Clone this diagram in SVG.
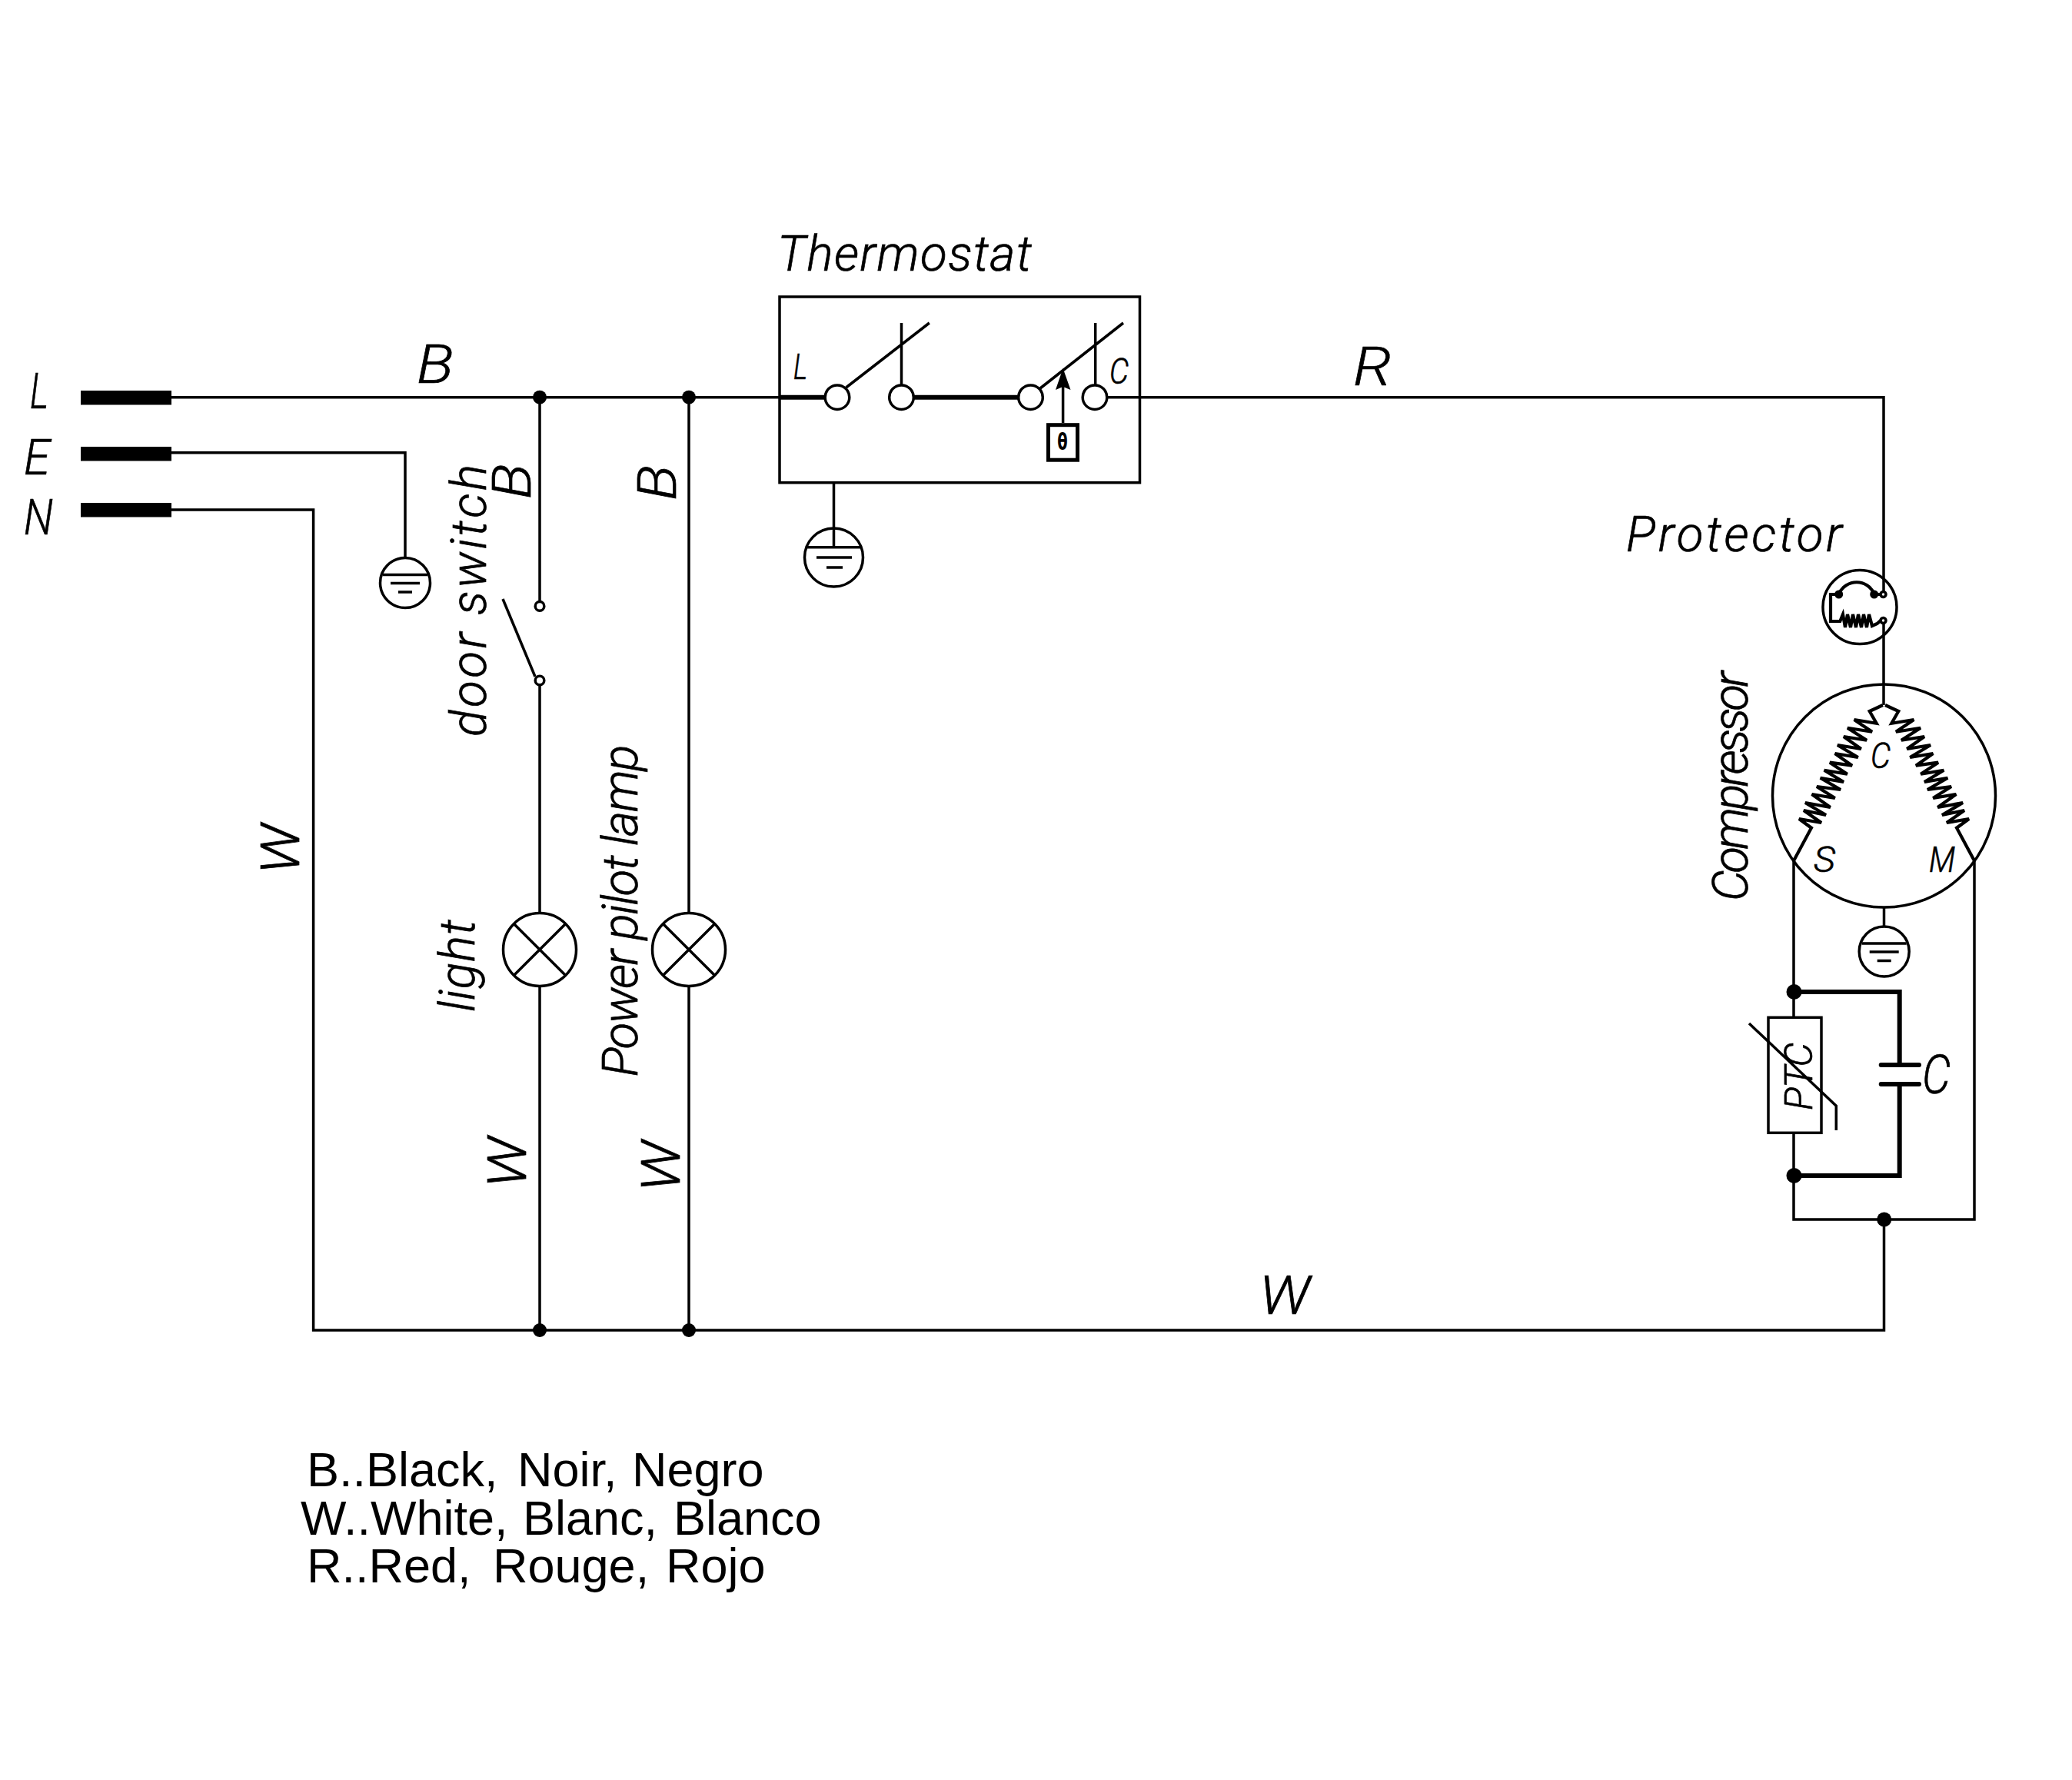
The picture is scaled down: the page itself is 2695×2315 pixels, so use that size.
<svg xmlns="http://www.w3.org/2000/svg" xmlns:xlink="http://www.w3.org/1999/xlink" width="2695" height="2315" viewBox="0 0 2695 2315">
<style>
.w{fill:none;stroke:#000;stroke-width:3.5;stroke-linejoin:miter;stroke-linecap:butt}
.c{fill:none;stroke:#000;stroke-width:4.2;stroke-linejoin:miter}
.t{fill:none;stroke:#000;stroke-width:6}
.n{fill:#fff;stroke:#000;stroke-width:3.5}
.o{fill:none;stroke:#000;stroke-width:3.5}
.d{fill:#000}
.bar{fill:#000}
text{fill:#000}
.i{font-family:"Roboto","Liberation Sans",sans-serif;font-style:italic;font-weight:300;font-size:64px;stroke:#000;stroke-width:.7}
.s{font-size:46px}
.m{font-size:70px}
.lg{font-family:"Liberation Sans",Arial,sans-serif;font-size:63px}
</style>
<defs>
<g id="gnd"><circle class="o" r="32.5"/><path class="w" d="M-29,-10.5H29M-19,0.5H19M-9,12H9"/></g>
<g id="lamp-sym"><circle class="n" r="47.5"/><path class="w" d="M-33.6,-33.6L33.6,33.6M33.6,-33.6L-33.6,33.6"/></g>
<path id="coil" class="c" d="M2449,917L2431.7,925L2440.7,940.7L2411.7,936L2435,951.7L2403,946.7L2428,962.7L2398,958L2420.7,974L2390,969L2416.7,985L2386.7,980L2409,995.7L2380,991.7L2402.7,1006.7L2372.7,1001.7L2398,1017L2367.7,1011.7L2394,1027L2363,1023L2386.7,1038L2356.7,1033L2380.7,1050L2348,1044L2375,1060L2346,1054L2369,1070L2340,1065L2356,1076.7L2333,1119.6"/>
</defs>
<rect width="2695" height="2315" fill="#fff"/>
<g id="connectors">
<path class="w" d="M223,516.7H1014M1014,516.7H1074"/>
<path class="w" d="M1440,516.7H2450V773"/>
<path class="w" d="M223,588.7H527V726"/>
<path class="w" d="M223,663H407.6V1730H2450.5V1586"/>
<path class="w" d="M702,516.7V782.5M702,891V1187.5M702,1282.5V1730"/>
<path class="w" d="M896,516.7V1187.5M896,1282.5V1730"/>
<path class="w" d="M1084.5,627.7V692"/>
<path class="w" d="M2450,807V917"/>
<path class="w" d="M2450.5,1180V1205"/>
<path class="w" d="M2333,1119.6V1323M2333,1473V1586H2568V1119"/>
<path class="t" d="M2333.5,1290H2470.7V1385M2470.7,1410V1529H2333.5"/>
</g>
<g id="junctions">
<circle class="d" cx="702" cy="516.7" r="9"/><circle class="d" cx="896" cy="516.7" r="9"/>
<circle class="d" cx="702" cy="1730" r="9"/><circle class="d" cx="896" cy="1730" r="9"/>
<circle class="d" cx="2333.5" cy="1290" r="10"/><circle class="d" cx="2333.5" cy="1529" r="10"/>
<circle class="d" cx="2450.7" cy="1586" r="9.5"/>
</g>
<g id="terminals">
<rect class="bar" x="105" y="508" width="118" height="18.5"/>
<rect class="bar" x="105" y="581" width="118" height="18.5"/>
<rect class="bar" x="105" y="654" width="118" height="18.5"/>
<text class="i" transform="translate(39,531)" textLength="24" lengthAdjust="spacingAndGlyphs">L</text>
<text class="i" transform="translate(31,617)" textLength="34" lengthAdjust="spacingAndGlyphs">E</text>
<text class="i" transform="translate(31,694.5)" textLength="38" lengthAdjust="spacingAndGlyphs">N</text>
</g>
<g id="earth-mains"><use xlink:href="#gnd" href="#gnd" x="527" y="758"/></g>
<g id="door-switch">
<circle class="n" cx="702" cy="788.4" r="5.8"/><circle class="n" cx="702" cy="885" r="5.8"/>
<path class="w" d="M654,779L696,880"/>
<text class="i" transform="translate(631.5,958) rotate(-90)" textLength="354">door switch</text>
</g>
<g id="light"><use xlink:href="#lamp-sym" href="#lamp-sym" x="702" y="1235"/>
<text class="i" transform="translate(616.7,1316) rotate(-90)" textLength="120">light</text></g>
<g id="pilot-lamp"><use xlink:href="#lamp-sym" href="#lamp-sym" x="896" y="1235"/>
<text class="i" transform="translate(829.3,1400.5) rotate(-90)" textLength="432">Power pilot lamp</text></g>
<g id="thermostat">
<rect class="o" x="1014" y="386" width="468.5" height="241.7"/>
<path class="t" d="M1014,516.7H1074M1187,516.7H1326"/>
<circle class="n" cx="1089" cy="516.7" r="15.8"/><circle class="n" cx="1172.5" cy="516.7" r="15.8"/>
<circle class="n" cx="1340.5" cy="516.7" r="15.8"/><circle class="n" cx="1424" cy="516.7" r="15.8"/>
<path class="w" d="M1100.5,504L1208.8,420M1172.5,420V501M1353,505L1461,420M1424.7,420V501M1382.6,550V500"/>
<path class="d" d="M1382.6,479L1392.5,507L1382.6,503L1373,507Z"/>
<rect x="1363.5" y="552.7" width="38" height="45.5" fill="#fff" stroke="#000" stroke-width="5"/>
<text transform="translate(1382,585) scale(.65,1)" text-anchor="middle" font-family="'DejaVu Sans',sans-serif" font-weight="700" font-size="30">θ</text>
<text class="i" x="1011" y="351.7" textLength="331">Thermostat</text>
<text class="i s" x="1032" y="493" textLength="18" lengthAdjust="spacingAndGlyphs">L</text>
<text class="i s" x="1443" y="499" textLength="25" lengthAdjust="spacingAndGlyphs">C</text>
</g>
<g id="earth-thermostat">
<circle class="o" cx="1084.5" cy="725" r="38"/>
<path class="w" d="M1084.5,692V711.7M1050,711.7H1119M1062,725H1108M1075,738H1096"/>
</g>
<g id="protector">
<circle class="o" cx="2419" cy="789.5" r="48"/>
<circle class="n" cx="2449.5" cy="773" r="3.5"/><circle class="n" cx="2449.5" cy="807" r="3.5"/>
<circle class="d" cx="2391.7" cy="773" r="5.5"/><circle class="d" cx="2437.7" cy="773" r="5.5"/>
<path class="c" d="M2391.7,773C2400,752 2430,752 2437.7,773H2446"/>
<path class="c" d="M2391.7,773H2381V808H2393.3L2397,799L2400,816L2403,799L2407,816L2410,799L2414,816L2417,799L2421,816L2424,799L2428,816L2431,799L2435,814L2441.7,811L2446,807"/>
<text class="i" x="2115" y="717" textLength="281">Protector</text>
</g>
<g id="compressor">
<circle class="o" cx="2450.5" cy="1035" r="145"/>
<use xlink:href="#coil" href="#coil"/>
<use xlink:href="#coil" href="#coil" transform="translate(4901,0) scale(-1,1)"/>
<text class="i s" x="2433" y="999" textLength="26" lengthAdjust="spacingAndGlyphs">C</text>
<text class="i s" x="2359" y="1134" textLength="28" lengthAdjust="spacingAndGlyphs">S</text>
<text class="i s" x="2509" y="1134" textLength="34" lengthAdjust="spacingAndGlyphs">M</text>
<text class="i" transform="translate(2272.5,1172) rotate(-90)" textLength="299">Compressor</text>
</g>
<g id="earth-compressor"><use xlink:href="#gnd" href="#gnd" x="2450.7" y="1237.5"/></g>
<g id="ptc">
<rect class="n" x="2300" y="1323.3" width="69" height="150"/>
<path class="w" d="M2275,1331L2388.3,1438.3V1470"/>
<text class="i" style="font-size:50px" transform="translate(2357,1444) rotate(-90)" textLength="88">PTC</text>
</g>
<g id="capacitor">
<path class="t" d="M2446.7,1385H2496M2446.7,1410H2496" stroke-linecap="round"/>
<text class="i" x="2500" y="1421.7" textLength="37" lengthAdjust="spacingAndGlyphs" style="font-size:70px">C</text>
</g>
<g id="wire-labels">
<text class="i m" x="542" y="498" textLength="48" lengthAdjust="spacingAndGlyphs">B</text>
<text class="i m" x="1760" y="501" textLength="50" lengthAdjust="spacingAndGlyphs">R</text>
<text class="i m" x="1638" y="1709" textLength="66" lengthAdjust="spacingAndGlyphs">W</text>
<text class="i m" transform="translate(690,649) rotate(-90)" textLength="46" lengthAdjust="spacingAndGlyphs">B</text>
<text class="i m" transform="translate(879,650.7) rotate(-90)" textLength="46" lengthAdjust="spacingAndGlyphs">B</text>
<text class="i m" transform="translate(389,1137) rotate(-90)" textLength="65" lengthAdjust="spacingAndGlyphs">W</text>
<text class="i m" transform="translate(684,1545) rotate(-90)" textLength="66" lengthAdjust="spacingAndGlyphs">W</text>
<text class="i m" transform="translate(884,1550) rotate(-90)" textLength="66" lengthAdjust="spacingAndGlyphs">W</text>
</g>
<g id="legend">
<text class="lg" y="1932.7"><tspan x="399">B..Black,</tspan> <tspan x="673">Noir,</tspan> <tspan x="822">Negro</tspan></text>
<text class="lg" y="1996"><tspan x="391">W..White,</tspan> <tspan x="680">Blanc,</tspan> <tspan x="876">Blanco</tspan></text>
<text class="lg" y="2058.3"><tspan x="399">R..Red,</tspan> <tspan x="641">Rouge,</tspan> <tspan x="866">Rojo</tspan></text>
</g>
</svg>
